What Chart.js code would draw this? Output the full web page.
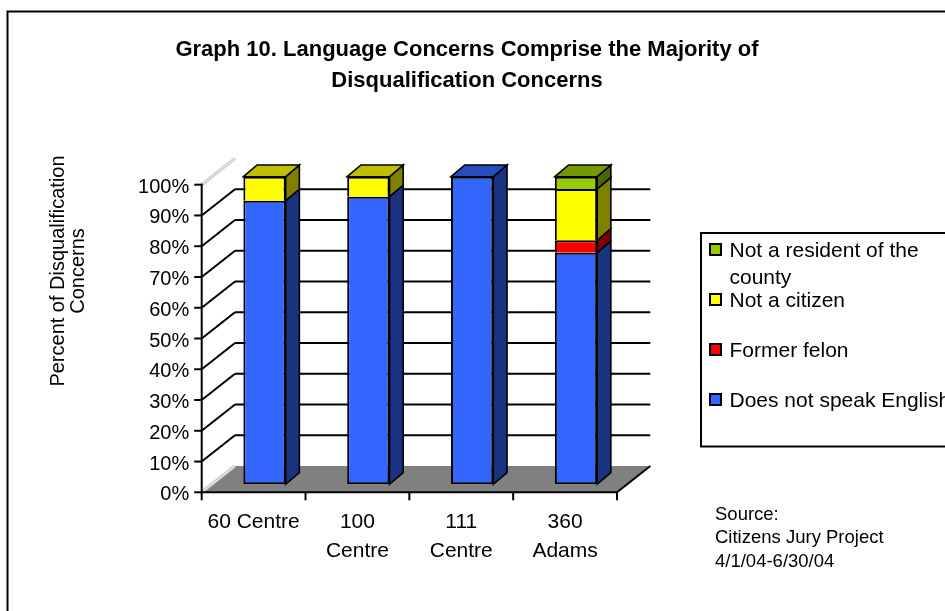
<!DOCTYPE html>
<html><head><meta charset="utf-8">
<script src="https://cdn.jsdelivr.net/npm/chart.js@4.4.1/dist/chart.umd.min.js"></script>
<style>html,body{margin:0;padding:0;background:#fff}canvas{display:block}</style>
</head><body>
<canvas id="c" width="945" height="611"></canvas>
<script>
// ---- data ----
const categories = [["60 Centre"], ["100", "Centre"], ["111", "Centre"], ["360", "Adams"]];
const speakEnglish = [92.2, 93.5, 100, 75.3];
const formerFelon  = [0, 0, 0, 4.0];
const notCitizen   = [7.8, 6.5, 0, 16.7];
const notResident  = [0, 0, 0, 4.0];
const yTickValues  = [0, 10, 20, 30, 40, 50, 60, 70, 80, 90, 100];
const yTickLabels  = ["0%", "10%", "20%", "30%", "40%", "50%", "60%", "70%", "80%", "90%", "100%"];
const titleLines   = ["Graph 10. Language Concerns Comprise the Majority of", "Disqualification Concerns"];
const yTitleLines  = ["Percent of Disqualification", "Concerns"];
const sourceLines  = ["Source:", "Citizens Jury Project", "4/1/04-6/30/04"];

// ---- 3D geometry (style) ----
const FRONT = {dx: -10.9, dy: 8};      // front axis plane relative to bar faces
const BACK  = {dx: 22.4, dy: -18.3};   // back wall relative to bar faces
const DEPTH = {dx: 13.7, dy: -11.7};   // bar depth
const FONT = "'Liberation Sans', Arial, sans-serif";

function shade(hex, f) {
  const n = parseInt(hex.slice(1), 16);
  const r = Math.round(((n >> 16) & 255) * f), g = Math.round(((n >> 8) & 255) * f), b = Math.round((n & 255) * f);
  return `rgb(${r},${g},${b})`;
}
function poly(c, pts, fill, stroke, lw) {
  c.beginPath(); c.moveTo(pts[0][0], pts[0][1]);
  for (let i = 1; i < pts.length; i++) c.lineTo(pts[i][0], pts[i][1]);
  c.closePath();
  if (fill) { c.fillStyle = fill; c.fill(); }
  if (stroke) { c.strokeStyle = stroke; c.lineWidth = lw || 1.5; c.lineJoin = 'miter'; c.stroke(); }
}
function line(c, x1, y1, x2, y2, col, lw) {
  c.beginPath(); c.moveTo(x1, y1); c.lineTo(x2, y2); c.strokeStyle = col; c.lineWidth = lw; c.stroke();
}

const deco = {
  id: 'deco',
  beforeDraw(chart) {
    const c = chart.ctx; c.save();
    c.fillStyle = '#fff'; c.fillRect(0, 0, chart.width, chart.height);
    // outer border (extends off right/bottom)
    c.strokeStyle = '#000'; c.lineWidth = 2;
    c.beginPath(); c.moveTo(7.5, 620); c.lineTo(7.5, 11.5); c.lineTo(960, 11.5); c.stroke();
    // title
    c.fillStyle = '#000'; c.textAlign = 'center'; c.textBaseline = 'alphabetic';
    c.font = `bold 22px ${FONT}`;
    c.fillText(titleLines[0], 467, 56);
    c.fillText(titleLines[1], 467, 87);
    // y title
    c.font = `20px ${FONT}`;
    const yx = [63.5, 83.5];
    yTitleLines.forEach((t, i) => { c.save(); c.translate(yx[i], 271); c.rotate(-Math.PI / 2); c.fillText(t, 0, 0); c.restore(); });
    c.restore();
  },
  beforeDatasetsDraw(chart) {
    const c = chart.ctx, ys = chart.scales.y, xs = chart.scales.x, a = chart.chartArea;
    c.save();
    const fl = a.left + FRONT.dx, fr = a.right + FRONT.dx;
    const bl = a.left + BACK.dx, br = a.right + BACK.dx;
    const yF = v => ys.getPixelForValue(v) + FRONT.dy;
    const yB = v => ys.getPixelForValue(v) + BACK.dy;
    // back wall + side wall gridlines
    yTickValues.forEach(v => {
      if (v === 0 || v === 100) return;
      line(c, fl, yF(v), bl, yB(v), '#000', 2);
      line(c, bl, yB(v), br, yB(v), '#000', 2);
    });
    // wall edge (light double line)
    line(c, fl, yF(100), bl, yB(100), '#c0c0c0', 3);
    line(c, fl, yF(100), bl, yB(100), '#fff', 1);
    // floor
    poly(c, [[fl, yF(0)], [fr, yF(0)], [br, yB(0)], [bl, yB(0)]], '#808080');
    line(c, fl, yF(0), bl, yB(0), '#c0c0c0', 3);
    line(c, fl, yF(0), bl, yB(0), '#fff', 1);
    line(c, fr, yF(0), br, yB(0), '#000', 2);
    // front y axis
    line(c, fl, yF(100) - 1, fl, yF(0) + 1, '#000', 2);
    c.font = `20px ${FONT}`; c.fillStyle = '#000'; c.textAlign = 'right'; c.textBaseline = 'alphabetic';
    yTickValues.forEach((v, i) => {
      line(c, fl - 7.5, yF(v), fl, yF(v), '#000', 2);
      c.fillText(yTickLabels[i], fl - 12.5, yF(v) + 8);
    });
    // front x axis
    line(c, fl - 1, yF(0), fr + 1, yF(0), '#000', 2);
    for (let i = 0; i <= categories.length; i++) {
      const x = xs.getPixelForValue(i - 0.5) + FRONT.dx;
      line(c, x, yF(0), x, yF(0) + 8, '#000', 2);
    }
    c.restore();
  },
  afterDatasetsDraw(chart) {
    const c = chart.ctx, ys = chart.scales.y, xs = chart.scales.x;
    c.save();
    const n = categories.length;
    for (let j = 0; j < n; j++) {
      let topEl = null, topCol = null;
      chart.data.datasets.forEach((ds, i) => {
        if (!ds.data[j]) return;
        const el = chart.getDatasetMeta(i).data[j];
        const p = el.getProps(['x', 'y', 'base', 'width'], true);
        const r = p.x + p.width / 2;
        poly(c, [[r, p.y], [r + DEPTH.dx, p.y + DEPTH.dy], [r + DEPTH.dx, p.base + DEPTH.dy], [r, p.base]],
             shade(ds.backgroundColor, 0.5), '#000', 1.6);
        topEl = p; topCol = ds.backgroundColor;
      });
      if (topEl) {
        const l = topEl.x - topEl.width / 2, r = topEl.x + topEl.width / 2;
        poly(c, [[l, topEl.y], [l + DEPTH.dx, topEl.y + DEPTH.dy], [r + DEPTH.dx, topEl.y + DEPTH.dy], [r, topEl.y]],
             shade(topCol, 0.75), '#000', 1.6);
      }
    }
    // category labels
    c.fillStyle = '#000'; c.textAlign = 'center'; c.textBaseline = 'alphabetic';
    c.font = `21px ${FONT}`;
    const y0 = ys.getPixelForValue(0) + FRONT.dy;
    categories.forEach((lines, j) => {
      const x = xs.getPixelForValue(j) + FRONT.dx;
      lines.forEach((t, k) => c.fillText(t, x, y0 + 36 + k * 29));
    });
    // legend
    c.strokeStyle = '#000'; c.lineWidth = 2;
    c.strokeRect(701, 233, 300, 213.5);
    c.font = `21px ${FONT}`; c.textAlign = 'left';
    const dsRev = chart.data.datasets.slice().reverse();
    dsRev.forEach((ds, k) => {
      const cy = 249.5 + k * 50;
      c.fillStyle = ds.backgroundColor; c.fillRect(710, cy - 5.5, 11, 11);
      c.strokeStyle = '#000'; c.lineWidth = 2; c.strokeRect(710, cy - 5.5, 11, 11);
      const words = ds.label.split(' '); const out = []; let cur = '';
      words.forEach(w => { const t = cur ? cur + ' ' + w : w; if (c.measureText(t).width > 240 && cur) { out.push(cur); cur = w; } else cur = t; });
      out.push(cur);
      c.fillStyle = '#000';
      out.forEach((t, m) => c.fillText(t, 729.5, cy + 7.5 + m * 27));
    });
    // source
    c.font = `18.5px ${FONT}`;
    [519.5, 543, 566.5].forEach((y, i) => c.fillText(sourceLines[i], 715, y));
    c.restore();
  }
};

new Chart(document.getElementById('c'), {
  type: 'bar',
  data: {
    labels: categories,
    datasets: [
      {label: 'Does not speak English', data: speakEnglish, backgroundColor: '#3366FF', borderSkipped: false},
      {label: 'Former felon', data: formerFelon, backgroundColor: '#FF0000', borderSkipped: 'start'},
      {label: 'Not a citizen', data: notCitizen, backgroundColor: '#FFFF00', borderSkipped: 'start'},
      {label: 'Not a resident of the county', data: notResident, backgroundColor: '#99CC00', borderSkipped: 'start'}
    ]
  },
  options: {
    responsive: false, animation: false, devicePixelRatio: 1,
    layout: {padding: {left: 212.6, right: 317.1, top: 176.7, bottom: 126.7}},
    scales: {
      x: {stacked: true, display: false, offset: true},
      y: {stacked: true, display: false, min: 0, max: 100}
    },
    datasets: {bar: {categoryPercentage: 1, barPercentage: 0.4075, borderColor: '#000',
      borderWidth: ctx => (ctx.raw ? 2 : 0), inflateAmount: 0}},
    plugins: {legend: {display: false}, tooltip: {enabled: false}, title: {display: false}}
  },
  plugins: [deco]
});
</script>
</body></html>
